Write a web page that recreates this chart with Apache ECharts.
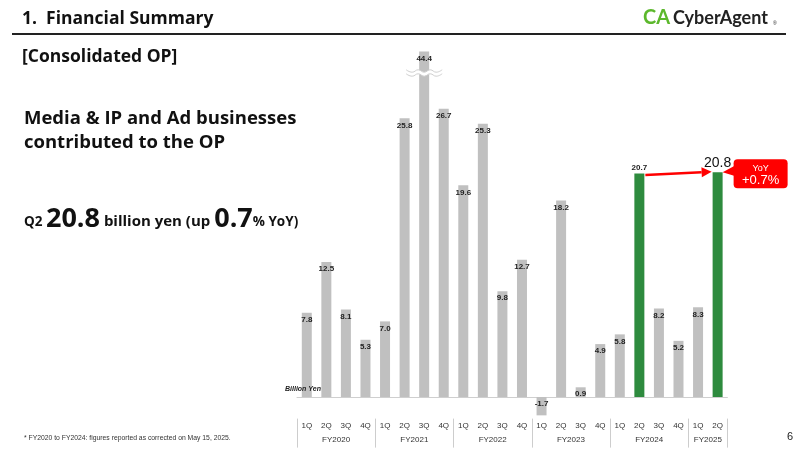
<!DOCTYPE html>
<html>
<head>
<meta charset="utf-8">
<script src="https://cdn.jsdelivr.net/npm/echarts@6/dist/echarts.min.js"></script>
<style>
html,body{margin:0;padding:0;background:#fff;}
#chart{width:800px;height:450px;}
</style>
</head>
<body>
<div id="chart"></div>
<script>
// quarterly consolidated OP, billion yen
var quarters = ['1Q','2Q','3Q','4Q','1Q','2Q','3Q','4Q','1Q','2Q','3Q','4Q','1Q','2Q','3Q','4Q','1Q','2Q','3Q','4Q','1Q','2Q'];
var years = ['FY2020','FY2021','FY2022','FY2023','FY2024','FY2025'];
var yearSpan = [4, 4, 4, 4, 4, 2];
var opValues = [7.8, 12.5, 8.1, 5.3, 7.0, 25.8, 44.4, 26.7, 19.6, 25.3, 9.8, 12.7, -1.7, 18.2, 0.9, 4.9, 5.8, 20.7, 8.2, 5.2, 8.3, 20.8];
var prevIdx = 17, curIdx = 21;
var yMin = -2, yMax = 32;

var gray = '#c0c0c0', green = '#2e8b3e', red = '#ff0000';
var axisFont = '"Liberation Sans", Arial, sans-serif';
var headFont = '"Open Sans", Lato, sans-serif';

// year boundaries / centres on a 0..n value scale
var bounds = [0], centers = [];
yearSpan.forEach(function (s) {
	var last = bounds[bounds.length - 1];
	centers.push(last + s / 2);
	bounds.push(last + s);
});

var barData = opValues.map(function (v, i) {
	var item = { value: Math.min(v, yMax), realValue: v };
	if (i === prevIdx || i === curIdx) {
		item.itemStyle = { color: green };
		item.label = { position: 'top', distance: 2 };
		if (i === curIdx) {
			item.label.fontSize = 14;
			item.label.fontWeight = 'normal';
			item.label.color = '#111';
		}
	}
	return item;
});

var myChart = echarts.init(document.getElementById('chart'));

var option = {
	animation: false,
	backgroundColor: '#fff',
	grid: { left: 297, right: 72.6, top: 51.4, bottom: 31.4 },
	xAxis: [
		{
			type: 'category',
			data: quarters,
			axisLine: { onZero: true, lineStyle: { color: '#cfcfcf', width: 1 } },
			axisTick: { show: false },
			axisLabel: { show: false }
		},
		{
			type: 'category',
			data: quarters,
			position: 'bottom',
			axisLine: { show: false },
			axisTick: { show: false },
			axisLabel: { margin: 3, fontSize: 8, color: '#333', fontFamily: axisFont }
		},
		{
			type: 'value',
			min: 0,
			max: quarters.length,
			position: 'bottom',
			splitLine: { show: false },
			axisLine: { show: false },
			axisTick: {
				show: true, inside: false, length: 29,
				customValues: bounds,
				lineStyle: { color: '#cdcdcd', width: 1 }
			},
			axisLabel: {
				margin: 17, fontSize: 8, color: '#333', fontFamily: axisFont,
				customValues: centers,
				formatter: function (v) {
					var k = centers.indexOf(v);
					return k >= 0 ? years[k] : '';
				}
			}
		}
	],
	yAxis: {
		type: 'value',
		min: yMin,
		max: yMax,
		show: false,
		splitLine: { show: false }
	},
	series: [
		{
			type: 'bar',
			xAxisIndex: 0,
			barWidth: 10,
			data: barData,
			itemStyle: { color: gray },
			label: {
				show: true,
				position: 'insideTop',
				distance: 3,
				fontSize: 8,
				fontWeight: 'bold',
				color: '#222',
				fontFamily: axisFont,
				formatter: function (p) {
					return p.data.realValue.toFixed(1);
				}
			}
		}
	]
};

myChart.setOption(option);

// pixel anchors for arrow, callout, axis-break wave
var pPrev = myChart.convertToPixel({ xAxisIndex: 0, yAxisIndex: 0 }, [prevIdx, opValues[prevIdx]]);
var pCur = myChart.convertToPixel({ xAxisIndex: 0, yAxisIndex: 0 }, [curIdx, opValues[curIdx]]);
var pBreak = myChart.convertToPixel({ xAxisIndex: 0, yAxisIndex: 0 }, [6, 30]);

var ax1 = pPrev[0] + 6, ay1 = pPrev[1] + 1.5;
var ax2 = pCur[0] - 6, ay2 = pCur[1] - 0.5;
var ang = Math.atan2(ay2 - ay1, ax2 - ax1);
var hl = 10, hw = 5;
var bx = ax2 - hl * Math.cos(ang), by = ay2 - hl * Math.sin(ang);

var waveTop = [], waveBot = [];
for (var k = 0; k <= 6; k++) {
	var wx = pBreak[0] - 18 + k * 6;
	var off = (k % 2 === 0) ? -1.2 : 1.2;
	waveTop.push([wx, pBreak[1] - 2 + off]);
	waveBot.push([wx, pBreak[1] + 2 + off]);
}

function txt(s, x, y, font, fill, extra) {
	var st = { text: s, x: x, y: y, textVerticalAlign: 'middle', verticalAlign: 'middle', font: font, fill: fill };
	for (var key in extra) st[key] = extra[key];
	return { type: 'text', z: 100, style: st };
}

var cx = pCur[0] + 5;
var graphic = [
	// header
	txt('1.  Financial Summary', 22, 19, 'bold 17.5px ' + headFont, '#111'),
	{ type: 'line', shape: { x1: 12, y1: 34, x2: 786, y2: 34 }, style: { stroke: '#222', lineWidth: 2 } },
	txt('CA', 643, 18, 'bold 20px Lato, sans-serif', '#5cb82c'),
	txt('CyberAgent', 673, 18, 'bold 18px Lato, sans-serif', '#222'),
	txt('®', 773, 24, '5px ' + axisFont, '#222'),
	txt('[Consolidated OP]', 22, 57, 'bold 17.5px ' + headFont, '#111'),
	// left commentary
	txt('Media & IP and Ad businesses', 24, 119, 'bold 18.5px ' + headFont, '#111'),
	txt('contributed to the OP', 24, 143, 'bold 18.5px ' + headFont, '#111'),
	{
		type: 'text',
		z: 100,
		style: {
			x: 24, y: 233, textVerticalAlign: 'bottom', verticalAlign: 'bottom',
			text: '{s|Q2 }{b|20.8}{m| billion yen (up }{b|0.7}{s|% YoY)}',
			fill: '#111',
			rich: {
				s: { fontSize: 13.5, fontWeight: 'bold', fontFamily: headFont, lineHeight: 30, padding: [0, 0, 4, 0], verticalAlign: 'bottom' },
				m: { fontSize: 15, fontWeight: 'bold', fontFamily: headFont, lineHeight: 30, padding: [0, 0, 4, 0], verticalAlign: 'bottom' },
				b: { fontSize: 27, fontWeight: 'bold', fontFamily: headFont, lineHeight: 30, verticalAlign: 'bottom' }
			}
		}
	},
	// unit
	txt('Billion Yen', 285, 389, 'italic bold 7px ' + axisFont, '#222'),
	// footnote + page
	txt('* FY2020 to FY2024: figures reported as corrected on May 15, 2025.', 24, 438, '6.8px ' + axisFont, '#333'),
	txt('6', 790, 437, '11px ' + axisFont, '#222', { textAlign: 'center', align: 'center' }),
	// axis break wave on tallest bar
	{ type: 'polygon', shape: { points: waveTop.concat(waveBot.slice().reverse()) }, style: { fill: '#fff' }, z: 10 },
	{ type: 'polyline', shape: { points: waveTop, smooth: 0.5 }, style: { stroke: '#cfcfcf', lineWidth: 1, fill: null }, z: 11 },
	{ type: 'polyline', shape: { points: waveBot, smooth: 0.5 }, style: { stroke: '#cfcfcf', lineWidth: 1, fill: null }, z: 11 },
	// YoY arrow
	{ type: 'line', shape: { x1: ax1, y1: ay1, x2: bx, y2: by }, style: { stroke: red, lineWidth: 2.5 }, z: 10 },
	{
		type: 'polygon', z: 10,
		shape: { points: [[ax2, ay2], [bx + hw * Math.sin(ang), by - hw * Math.cos(ang)], [bx - hw * Math.sin(ang), by + hw * Math.cos(ang)]] },
		style: { fill: red }
	},
	// YoY callout
	{ type: 'polygon', z: 10, shape: { points: [[cx, pCur[1]], [cx + 13, pCur[1] - 7], [cx + 13, pCur[1] + 4]] }, style: { fill: red } },
	{ type: 'rect', z: 10, shape: { x: cx + 11, y: pCur[1] - 13, width: 54, height: 29, r: 4 }, style: { fill: red } },
	txt('YoY', cx + 38, pCur[1] - 4, '9px ' + axisFont, '#fff', { textAlign: 'center', align: 'center' }),
	txt('+0.7%', cx + 38, pCur[1] + 8, '13px ' + axisFont, '#fff', { textAlign: 'center', align: 'center' })
];

myChart.setOption({ graphic: graphic });
</script>
</body>
</html>
